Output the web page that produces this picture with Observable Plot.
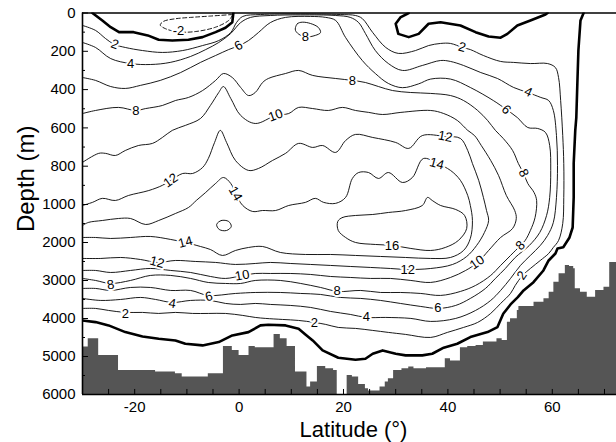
<!DOCTYPE html>
<html><head><meta charset="utf-8">
<script src="https://cdn.jsdelivr.net/npm/d3@7"></script>
<script src="https://cdn.jsdelivr.net/npm/@observablehq/plot@0.6"></script>
<style>
body{margin:0;background:#fff;}
</style></head><body><div id="chart"></div>
<script>
// ---- axis ticks ----
const yMajorTicks = [0,200,400,600,800,1000,2000,3000,4000,5000,6000];
const yMinorTicks = [100,300,500,700,900,1500,2500,3500,4500,5500];
const xLabelTicks = [-20,0,20,40,60];
const xMinorTicks = [-25,-20,-15,-10,-5,0,5,10,15,20,25,30,35,40,45,50,55,60,65,70];

// ---- bathymetry (step start latitude, depth m) ----
const bathyLat =   [-30,-28.9,-26.9,-23.1,-16.0,-12.2,-10.9,-5.9,-3.0,-1.3,0.0,1.9,3.1,6.7,7.9,9.2,10.8,13.0,13.7,15.0,16.6,18.1,18.8,20.7,21.7,22.9,24.2,24.8,27.0,28.0,28.6,29.6,31.2,32.5,33.5,35.9,39.5,40.5,42.4,43.8,45.4,46.8,49.4,50.4,51.4,52.0,53.3,53.6,56.5,58.4,59.4,60.3,61.3,62.5,63.3,64.1,64.4,65.4,66.7,68.3,69.9,71.0,72.3];
const bathyDepth = [4753,4532,4971,5366,5411,5453,5542,5453,4735,4840,4971,4735,4769,4419,4532,4735,5411,5805,5674,5261,5321,5366,6000,5497,5542,5734,5847,5910,5805,5674,5585,5366,5321,5279,5321,5295,5058,5120,4769,4735,4708,4621,4532,4577,4096,4006,3788,3683,3570,3480,3307,3044,2823,2604,2630,2691,3217,3307,3438,3262,3175,2525,2525];

// ---- contours: [latitude, depth] ----
const c2 = [[-30,65],[-27.5,91],[-25.6,133],[-23.9,164],[-21.8,180],[-18.5,196],[-14.7,206],[-10.8,196],[-7,170],[-3.9,144],[-1.6,102],[-0.5,50],[0.7,18],[4.1,8],[11.8,5],[19.4,8],[22.3,13],[23.6,29],[25.6,102],[28.1,180],[30.5,211],[33.8,196],[36.3,170],[38.6,159],[40.5,159],[42.8,180],[44.3,191],[46.8,222],[50.1,253],[52.6,258],[55.8,264],[59.1,264],[60.6,285],[61.2,337],[61.6,457],[62,640],[62.2,786],[62.2,963],[62,1500],[61.2,1947],[60.2,2130],[59.3,2290],[57.7,2473],[55.8,2684],[54.3,2867],[52.9,3130],[52,3340],[50.1,3604],[48.2,3867],[45.7,4103],[43,4235],[39.9,4366],[36.7,4498],[31.9,4419],[28.6,4366],[25.6,4314],[22.3,4261],[19,4235],[16.6,4156],[14.4,4103],[11.4,4051],[8.3,4025],[5.1,3998],[3.1,3972],[0.7,3919],[-2.6,3867],[-5.9,3867],[-8.9,3867],[-12.2,3840],[-15.4,3867],[-18.5,3840],[-21.8,3840],[-25,3788],[-27.5,3735],[-30,3735]];
const c4 = [[-30,154],[-27.5,180],[-24.6,238],[-20.8,264],[-17,269],[-13.2,258],[-9.3,227],[-6.4,191],[-3.9,154],[-1.6,107],[0.3,50],[2.2,23],[6,13],[11.8,10],[18.5,13],[21.3,23],[22.9,50],[24.2,107],[26.1,196],[28.6,264],[31.3,300],[35.1,274],[38.6,248],[40.5,253],[43,274],[46.3,311],[49.5,342],[52.6,389],[55.3,415],[57.8,441],[59.3,457],[60.2,509],[60.8,640],[61,796],[60.8,963],[60.2,1473],[59.1,1815],[57.7,2078],[55.8,2341],[53.9,2604],[52,2946],[50.1,3262],[48.2,3525],[45.3,3788],[41.5,3998],[36.7,4077],[32.9,3998],[28.1,3972],[24.4,3972],[21.3,3893],[17.5,3814],[13.7,3709],[9.8,3656],[6,3630],[3.1,3604],[0.3,3630],[-2.6,3604],[-5.5,3525],[-9.3,3525],[-12.8,3578],[-16,3499],[-18.9,3446],[-22.7,3499],[-26.5,3525],[-30,3472]];
const c6 = [[-30,337],[-27.5,352],[-24.6,384],[-21.8,394],[-18.9,378],[-15.1,352],[-11.2,311],[-7.4,258],[-4.5,222],[-2,191],[0,170],[1.8,144],[3.7,102],[6,50],[8.9,23],[13.7,18],[16.6,23],[18.5,39],[20.4,128],[23.6,248],[26.1,316],[28.6,368],[31.3,390],[34.4,370],[36.7,345],[40.5,345],[44.3,389],[48.7,457],[51.2,504],[53.3,546],[55.3,598],[57.2,603],[58.7,624],[59.5,692],[59.7,822],[59.5,963],[58.9,1290],[57.6,1736],[55.6,2078],[52.9,2394],[51,2684],[49.1,2946],[47.2,3209],[44.3,3472],[41.5,3656],[38.2,3735],[34.8,3683],[30.9,3604],[27.1,3525],[23.3,3472],[19.4,3446],[15.6,3367],[11.8,3341],[7.9,3315],[3.1,3315],[-0.7,3341],[-5.9,3393],[-9.3,3262],[-13.1,3262],[-17,3183],[-20.8,3183],[-24.6,3262],[-27.5,3209],[-30,3209]];
const c8 = [[-30,525],[-27.5,509],[-23.1,493],[-19.8,509],[-17.9,499],[-14.7,483],[-12.2,457],[-9.7,441],[-7,405],[-4.5,352],[-3,316],[-1.3,337],[0.3,389],[1.8,431],[3.1,415],[4.5,363],[5.6,342],[8.9,316],[11.4,300],[14.1,326],[18.5,342],[21.7,352],[24.2,363],[26.7,384],[29.4,405],[32.8,415],[36.7,420],[40.5,431],[43,457],[45.7,509],[47.6,561],[49.1,613],[50.6,655],[52.4,718],[53.5,786],[54.5,838],[55.3,890],[56.5,937],[57,979],[56.7,1342],[55.8,1684],[54.8,1947],[53.9,2078],[52,2341],[50.1,2604],[48.2,2867],[45.3,3130],[42.4,3288],[38.6,3393],[34.8,3341],[30.9,3315],[27.1,3315],[23.3,3262],[18.9,3288],[15.6,3183],[11.8,3078],[7.9,2999],[3.1,2999],[0.3,3078],[-2.6,3078],[-5.9,3052],[-9.3,2946],[-13.1,2867],[-17,2867],[-20.8,2999],[-24.6,3078],[-27.5,2999],[-30,2946]];
const c10 = [[-30,780],[-26.9,733],[-25.6,733],[-23.7,744],[-21.8,718],[-19.3,692],[-16.6,681],[-14.7,650],[-12.8,613],[-10.3,587],[-7.4,551],[-5.5,483],[-3.9,415],[-3,384],[-1.6,446],[0.3,535],[3.1,577],[7,535],[9.5,525],[11.4,493],[14.1,499],[17.1,509],[19.8,493],[22.3,509],[24.8,519],[27.5,530],[31,519],[36.7,509],[39.2,525],[41.8,561],[43.8,613],[45.1,640],[46.4,692],[48.2,770],[49.7,848],[51.2,953],[52.8,1158],[53.1,1368],[52.4,1631],[50.1,1868],[47.8,2210],[45.7,2525],[43.4,2736],[40.5,2920],[36.7,3051],[32.9,2999],[29,2946],[25.2,2946],[21.3,2920],[17.5,2894],[13.7,2841],[9.8,2815],[6,2815],[3.1,2815],[0.7,2867],[-2.6,2946],[-5.5,2894],[-9.3,2789],[-13.1,2736],[-17,2683],[-20.8,2736],[-24.6,2789],[-27.5,2736],[-30,2736]];
const c12 = [[-30,1026],[-28.1,989],[-26.2,968],[-23.7,979],[-21.2,953],[-17.3,927],[-14.7,900],[-13.1,874],[-10.8,838],[-8.9,838],[-7,807],[-5.9,760],[-4.7,676],[-3.6,613],[-2.4,676],[-0.7,770],[1.8,822],[3.7,812],[6.4,770],[8.9,733],[11.4,681],[14.1,702],[16,692],[18.5,728],[20.4,666],[22.3,634],[25.6,650],[30,676],[32.5,707],[35.1,640],[39.5,645],[42.4,655],[43.8,718],[44.7,786],[45.9,874],[46.8,963],[47.4,1158],[47.8,1421],[47,1736],[45.5,2078],[43.6,2368],[40.9,2578],[36.7,2684],[32.3,2710],[29,2684],[25.2,2657],[21.3,2631],[17.5,2604],[13.7,2578],[9.8,2552],[6,2525],[3.1,2552],[-0.7,2578],[-4.5,2525],[-8.4,2499],[-12.2,2473],[-15.6,2525],[-18.9,2447],[-22.7,2394],[-26.5,2420],[-30,2420]];
const c14 = [[-30,1552],[-28.9,1473],[-26.2,1421],[-23.1,1368],[-20.8,1368],[-17.9,1526],[-15.4,1421],[-12.2,1237],[-9.7,1079],[-8.2,979],[-6.4,937],[-4.5,890],[-3,859],[-1.6,890],[-0.7,942],[0.7,1026],[2.6,1184],[4.5,1158],[7,1158],[9.5,1026],[12.7,989],[14.6,968],[16.2,989],[18.5,994],[20.4,963],[21.7,864],[22.9,833],[24.8,833],[26.7,864],[28.6,833],[31.3,885],[33.2,859],[35.3,760],[38,786],[40.5,822],[42.4,874],[43.8,953],[44.3,1026],[44.7,1421],[44.3,1894],[43,2210],[40.5,2394],[36.7,2420],[31.9,2394],[27.1,2368],[22.3,2341],[17.5,2315],[12.7,2315],[7.9,2262],[4.5,2105],[1.8,2131],[-0.7,2210],[-3.2,2341],[-5.5,2184],[-7.4,2105],[-10.3,1999],[-13.1,1920],[-17,1841],[-20.8,1868],[-24.6,1894],[-27.5,1868],[-30,1868]];
const c16 = [[18.9,1447],[19.8,1342],[22.3,1289],[25.6,1263],[28.6,1210],[31.9,1158],[35.1,1026],[36.1,963],[37,979],[38.6,1026],[41.5,1131],[43.2,1289],[43.6,1631],[42,1947],[39.5,2131],[36.7,2210],[32.9,2157],[29.4,2078],[26.1,2052],[22.3,1999],[20.4,1868],[19,1684]];
const cSmall = [[-4.3,1526],[-3.4,1421],[-2,1447],[-1.5,1578],[-2.4,1684],[-3.8,1657]];
const c8loop = [[10.8,76],[11.2,55],[12.1,48],[13.7,55],[15.2,76],[15.6,102],[14.6,117],[12.7,125],[11.4,110],[10.8,91]];
const cNeg2 = [[-1.3,8],[-5.5,16],[-9.3,23],[-12.2,30],[-14.5,44],[-15.1,63],[-14.1,82],[-11.6,99],[-8.4,97],[-4.5,74],[-2,39],[-1.3,13]];
const zeroMain = [[-30,4051],[-27.5,4095],[-25,4182],[-21.8,4358],[-18.5,4472],[-15.4,4533],[-12.2,4577],[-10.3,4664],[-7,4708],[-3.9,4621],[-1.3,4445],[1.8,4358],[4.1,4182],[5.6,4164],[8.9,4182],[11.4,4269],[12.7,4419],[14.1,4577],[16,4840],[19,5032],[22.3,5085],[24.2,5059],[25.6,4927],[27.5,4840],[30,4927],[31.9,4971],[35.1,4971],[37,4927],[39.2,4769],[41.8,4664],[44.3,4490],[47.6,4358],[49.5,4226],[50.6,3875],[52,3630],[53.4,3437],[54.5,3262],[56.4,3043],[58.3,2736],[59.3,2473],[60.6,2289],[61,2157],[62.1,2123],[63.3,1868],[63.9,1605],[64.1,963],[64.1,786],[64.4,613],[64.6,546],[64.8,368],[65,196],[65.4,39],[66,0]];
const zeroTopLeft = [[-28.1,0],[-26.2,39],[-24.6,74],[-23,100],[-20.2,100],[-17.5,117],[-15.4,140],[-12.8,144],[-9.7,140],[-7,126],[-4.5,100],[-2.6,77],[-1.3,48],[-1.1,0]];
const zeroTopMid = [[32.5,0],[30.9,23],[30,56],[30.5,109],[32.5,126],[34.4,109],[36.3,56],[38.6,48],[42.4,65],[45.3,100],[47.8,123],[50.1,129],[51.4,109],[53.3,65],[55.8,39],[58.7,8],[59.1,0]];

// ---- contour labels ----
const labelText  = ["-2","2","4","6","8","8","8","10","12","14","14","12","8","10","6","4","2","12","8","6","4","2","10","2","12","14","8","8","16","2","4","6"];
const labelLat   = [-11.6,-23.8,-20.8,-0.1,-19.8,12.7,21.7,7.0,-13.1,-0.7,-10.3,-15.7,-24.6,0.6,-5.8,-12.8,-21.8,32.3,18.8,38.1,24.4,14.4,45.6,54.2,39.5,37.9,54.5,53.9,29.3,42.7,55.4,51.2];
const labelDepth = [95,164,265,170,509,122,352,535,874,943,1991,2518,3110,2867,3420,3604,3867,2718,3280,3709,3959,4106,2525,2867,645,787,836,2078,2078,179,413,505];
const labelRot   = [0,20,0,-30,0,0,0,-20,-35,60,-15,15,-10,-10,-15,10,0,0,0,0,0,0,-35,-55,10,15,65,-45,0,15,25,45];

const bathy = bathyLat.map((x,i)=>({lat:x, depth:bathyDepth[i]}));
const labels = labelText.map((t,i)=>({text:t, lat:labelLat[i], depth:labelDepth[i], rot:labelRot[i]}));
const thinContours = [c2,c4,c6,c8,c10,c12,c14];
const closedContours = [c16,cSmall,c8loop];
const xTick = 6/5.22, xMinor = 3/5.22;
const P = d=>d[0], Q = d=>d[1];

const plot = Plot.plot({
  width: 616, height: 442,
  marginLeft: 82, marginRight: 0, marginTop: 12.5, marginBottom: 48,
  style: {fontFamily: "'Liberation Sans', Arial, Helvetica, sans-serif", fontSize: "15px", background: "#fff", color: "#000"},
  x: {type: "linear", domain: [-30, 72.3]},
  y: {type: "linear", domain: [0, 1000, 6000], range: [12.5, 204, 394]},
  marks: [
    Plot.areaY(bathy, {x: "lat", y1: "depth", y2: 6000, curve: "step-after", fill: "#555555"}),
    ...thinContours.map(c => Plot.line(c, {x: P, y: Q, stroke: "#000", strokeWidth: 0.9, curve: "catmull-rom", clip: true})),
    ...closedContours.map(c => Plot.line(c, {x: P, y: Q, stroke: "#000", strokeWidth: 0.9, curve: "catmull-rom-closed", clip: true})),
    Plot.line(cNeg2, {x: P, y: Q, stroke: "#000", strokeWidth: 0.9, strokeDasharray: "4,2.5", curve: "catmull-rom", clip: true}),
    ...[zeroMain, zeroTopLeft, zeroTopMid].map(c => Plot.line(c, {x: P, y: Q, stroke: "#000", strokeWidth: 2.6, curve: "linear", clip: true})),
    Plot.text(labels, {x: "lat", y: "depth", text: "text", rotate: d => d.rot, fontSize: 13, fill: "#000", stroke: "#fff", strokeWidth: 4}),
    Plot.ruleX([-30], {stroke: "#000", strokeWidth: 1.6}),
    Plot.ruleY([0, 6000], {stroke: "#000", strokeWidth: 1.6}),
    Plot.ruleY(yMajorTicks, {y: d => d, x1: -30, x2: -30 + xTick, stroke: "#000", strokeWidth: 1}),
    Plot.ruleY(yMinorTicks, {y: d => d, x1: -30, x2: -30 + xMinor, stroke: "#000", strokeWidth: 1}),
    Plot.ruleX(xMinorTicks, {x: d => d, y1: 6000, y2: 5868, stroke: "#000", strokeWidth: 1}),
    Plot.axisY({ticks: yMajorTicks, tickSize: 0, tickPadding: 7, tickFormat: d => String(d), fontSize: 15, label: null}),
    Plot.axisX({ticks: xLabelTicks, tickSize: 0, tickPadding: 7, tickFormat: d => String(d), fontSize: 15, label: null}),
    Plot.text(["Latitude (°)"], {text: d => d, frameAnchor: "bottom", lineAnchor: "middle", dy: 35, dx: 4, fontSize: 22}),
    Plot.text(["Depth (m)"], {text: d => d, frameAnchor: "left", textAnchor: "middle", lineAnchor: "middle", dx: -56, dy: -25, rotate: -90, fontSize: 24})
  ]
});
document.getElementById("chart").append(plot);
</script></body></html>
